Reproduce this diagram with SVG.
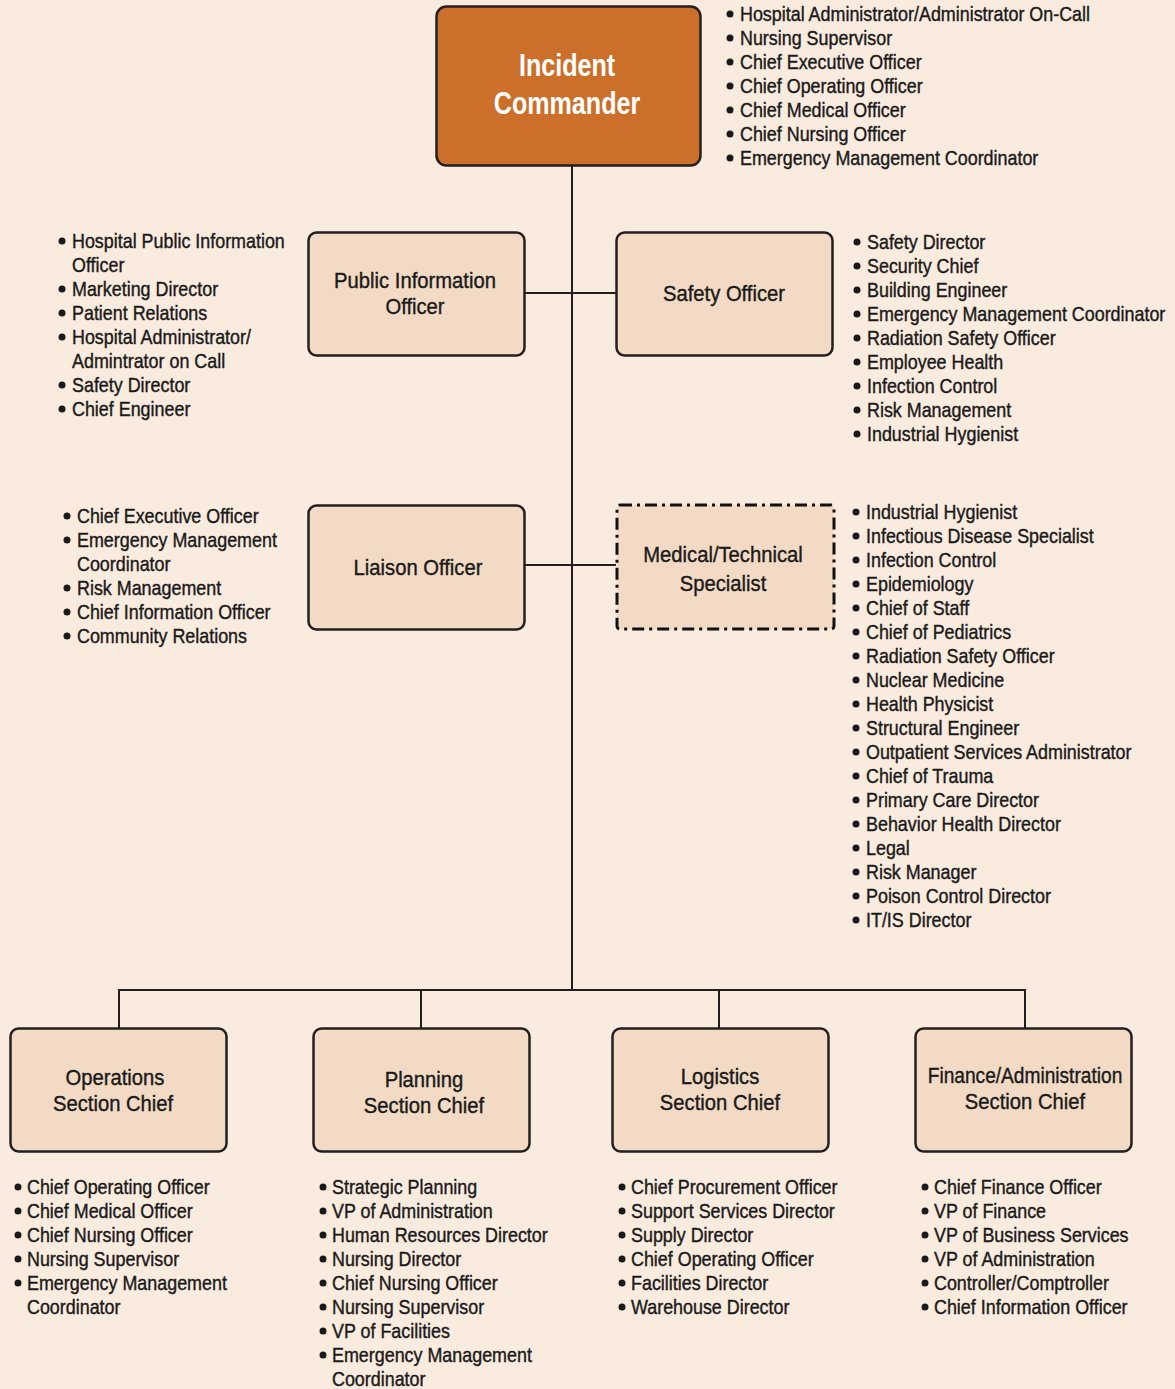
<svg xmlns="http://www.w3.org/2000/svg" width="1175" height="1389" viewBox="0 0 1175 1389">
  <style>
    .bg { fill: #FAEBDF; }
    .box { fill: #F3DAC4; stroke: #231F20; stroke-width: 2.5; }
    .cmd { fill: #CC6F2A; stroke: #231F20; stroke-width: 2.5; }
    .dash { fill: #F3DAC4; stroke: #111; stroke-width: 3; stroke-dasharray: 12 5 3 5; }
    .wire { fill: none; stroke: #231F20; stroke-width: 2; }
    text { font-family: "Liberation Sans", Arial, sans-serif; fill: #1A1A1A; stroke: #1A1A1A; stroke-width: 0.4; }
    .lbl { font-size: 22px; text-anchor: middle; }
    .title { font-size: 31px; font-weight: bold; fill: #FFFFFF; stroke: none; text-anchor: middle; }
    .li { font-size: 20px; }
    .dot { fill: #1A1A1A; }
  </style>
  <defs>
    <circle id="b" r="3.5" class="dot"/>
  </defs>
  <rect class="bg" x="0" y="0" width="1175" height="1389"/>

  <!-- reporting lines -->
  <g id="connectors">
    <path class="wire" d="M572 166 V990"/>
    <path class="wire" d="M524 293 H616"/>
    <path class="wire" d="M524 565 H616"/>
    <path class="wire" d="M119 1028 V990 H1025 V1028"/>
    <path class="wire" d="M421 990 V1028"/>
    <path class="wire" d="M719 990 V1028"/>
  </g>

  <!-- Incident Commander -->
  <g id="incident-commander">
    <rect class="cmd" x="436.5" y="6.5" width="264" height="159" rx="10"/>
    <g transform="translate(567 0) scale(0.81 1)">
      <text class="title" x="0" y="76">Incident</text>
      <text class="title" x="0" y="114">Commander</text>
    </g>
    <use href="#b" x="730" y="14"/><use href="#b" x="730" y="38"/><use href="#b" x="730" y="62"/>
    <use href="#b" x="730" y="86"/><use href="#b" x="730" y="110"/><use href="#b" x="730" y="134"/>
    <use href="#b" x="730" y="158"/>
    <g class="li" transform="translate(740 0) scale(0.895 1)">
      <text x="0" y="21">Hospital Administrator/Administrator On-Call</text>
      <text x="0" y="45">Nursing Supervisor</text>
      <text x="0" y="69">Chief Executive Officer</text>
      <text x="0" y="93">Chief Operating Officer</text>
      <text x="0" y="117">Chief Medical Officer</text>
      <text x="0" y="141">Chief Nursing Officer</text>
      <text x="0" y="165">Emergency Management Coordinator</text>
    </g>
  </g>

  <!-- Public Information Officer -->
  <g id="public-information-officer">
    <rect class="box" x="308.5" y="232.5" width="216" height="123" rx="8"/>
    <g transform="translate(415 0) scale(0.92 1)">
      <text class="lbl" x="0" y="288">Public Information</text>
      <text class="lbl" x="0" y="314">Officer</text>
    </g>
    <use href="#b" x="62" y="241"/><use href="#b" x="62" y="289"/><use href="#b" x="62" y="313"/>
    <use href="#b" x="62" y="337"/><use href="#b" x="62" y="385"/><use href="#b" x="62" y="409"/>
    <g class="li" transform="translate(72 0) scale(0.895 1)">
      <text x="0" y="248">Hospital Public Information</text>
      <text x="0" y="272">Officer</text>
      <text x="0" y="296">Marketing Director</text>
      <text x="0" y="320">Patient Relations</text>
      <text x="0" y="344">Hospital Administrator/</text>
      <text x="0" y="368">Admintrator on Call</text>
      <text x="0" y="392">Safety Director</text>
      <text x="0" y="416">Chief Engineer</text>
    </g>
  </g>

  <!-- Safety Officer -->
  <g id="safety-officer">
    <rect class="box" x="616.5" y="232.5" width="216" height="123" rx="8"/>
    <g transform="translate(724 0) scale(0.92 1)">
      <text class="lbl" x="0" y="301">Safety Officer</text>
    </g>
    <use href="#b" x="857" y="242"/><use href="#b" x="857" y="266"/><use href="#b" x="857" y="290"/>
    <use href="#b" x="857" y="314"/><use href="#b" x="857" y="338"/><use href="#b" x="857" y="362"/>
    <use href="#b" x="857" y="386"/><use href="#b" x="857" y="410"/><use href="#b" x="857" y="434"/>
    <g class="li" transform="translate(867 0) scale(0.895 1)">
      <text x="0" y="249">Safety Director</text>
      <text x="0" y="273">Security Chief</text>
      <text x="0" y="297">Building Engineer</text>
      <text x="0" y="321">Emergency Management Coordinator</text>
      <text x="0" y="345">Radiation Safety Officer</text>
      <text x="0" y="369">Employee Health</text>
      <text x="0" y="393">Infection Control</text>
      <text x="0" y="417">Risk Management</text>
      <text x="0" y="441">Industrial Hygienist</text>
    </g>
  </g>

  <!-- Liaison Officer -->
  <g id="liaison-officer">
    <rect class="box" x="308.5" y="505.5" width="216" height="124" rx="8"/>
    <g transform="translate(418 0) scale(0.92 1)">
      <text class="lbl" x="0" y="575">Liaison Officer</text>
    </g>
    <use href="#b" x="67" y="516"/><use href="#b" x="67" y="540"/><use href="#b" x="67" y="588"/>
    <use href="#b" x="67" y="612"/><use href="#b" x="67" y="636"/>
    <g class="li" transform="translate(77 0) scale(0.895 1)">
      <text x="0" y="523">Chief Executive Officer</text>
      <text x="0" y="547">Emergency Management</text>
      <text x="0" y="571">Coordinator</text>
      <text x="0" y="595">Risk Management</text>
      <text x="0" y="619">Chief Information Officer</text>
      <text x="0" y="643">Community Relations</text>
    </g>
  </g>

  <!-- Medical/Technical Specialist -->
  <g id="medical-technical-specialist">
    <rect class="dash" x="617" y="505" width="217" height="124" rx="3"/>
    <g transform="translate(723 0) scale(0.92 1)">
      <text class="lbl" x="0" y="562">Medical/Technical</text>
      <text class="lbl" x="0" y="591">Specialist</text>
    </g>
    <use href="#b" x="856" y="512"/><use href="#b" x="856" y="536"/><use href="#b" x="856" y="560"/>
    <use href="#b" x="856" y="584"/><use href="#b" x="856" y="608"/><use href="#b" x="856" y="632"/>
    <use href="#b" x="856" y="656"/><use href="#b" x="856" y="680"/><use href="#b" x="856" y="704"/>
    <use href="#b" x="856" y="728"/><use href="#b" x="856" y="752"/><use href="#b" x="856" y="776"/>
    <use href="#b" x="856" y="800"/><use href="#b" x="856" y="824"/><use href="#b" x="856" y="848"/>
    <use href="#b" x="856" y="872"/><use href="#b" x="856" y="896"/><use href="#b" x="856" y="920"/>
    <g class="li" transform="translate(866 0) scale(0.895 1)">
      <text x="0" y="519">Industrial Hygienist</text>
      <text x="0" y="543">Infectious Disease Specialist</text>
      <text x="0" y="567">Infection Control</text>
      <text x="0" y="591">Epidemiology</text>
      <text x="0" y="615">Chief of Staff</text>
      <text x="0" y="639">Chief of Pediatrics</text>
      <text x="0" y="663">Radiation Safety Officer</text>
      <text x="0" y="687">Nuclear Medicine</text>
      <text x="0" y="711">Health Physicist</text>
      <text x="0" y="735">Structural Engineer</text>
      <text x="0" y="759">Outpatient Services Administrator</text>
      <text x="0" y="783">Chief of Trauma</text>
      <text x="0" y="807">Primary Care Director</text>
      <text x="0" y="831">Behavior Health Director</text>
      <text x="0" y="855">Legal</text>
      <text x="0" y="879">Risk Manager</text>
      <text x="0" y="903">Poison Control Director</text>
      <text x="0" y="927">IT/IS Director</text>
    </g>
  </g>

  <!-- Operations Section Chief -->
  <g id="operations-section-chief">
    <rect class="box" x="10.5" y="1028.5" width="216" height="123" rx="8"/>
    <g transform="translate(114 0) scale(0.92 1)">
      <text class="lbl" x="1" y="1085">Operations</text>
      <text class="lbl" x="-1" y="1111">Section Chief</text>
    </g>
    <use href="#b" x="18" y="1187"/><use href="#b" x="18" y="1211"/><use href="#b" x="18" y="1235"/>
    <use href="#b" x="18" y="1259"/><use href="#b" x="18" y="1283"/>
    <g class="li" transform="translate(27 0) scale(0.895 1)">
      <text x="0" y="1194">Chief Operating Officer</text>
      <text x="0" y="1218">Chief Medical Officer</text>
      <text x="0" y="1242">Chief Nursing Officer</text>
      <text x="0" y="1266">Nursing Supervisor</text>
      <text x="0" y="1290">Emergency Management</text>
      <text x="0" y="1314">Coordinator</text>
    </g>
  </g>

  <!-- Planning Section Chief -->
  <g id="planning-section-chief">
    <rect class="box" x="313.5" y="1028.5" width="216" height="123" rx="8"/>
    <g transform="translate(424 0) scale(0.92 1)">
      <text class="lbl" x="0" y="1087">Planning</text>
      <text class="lbl" x="0" y="1113">Section Chief</text>
    </g>
    <use href="#b" x="323" y="1187"/><use href="#b" x="323" y="1211"/><use href="#b" x="323" y="1235"/>
    <use href="#b" x="323" y="1259"/><use href="#b" x="323" y="1283"/><use href="#b" x="323" y="1307"/>
    <use href="#b" x="323" y="1331"/><use href="#b" x="323" y="1355"/>
    <g class="li" transform="translate(332 0) scale(0.895 1)">
      <text x="0" y="1194">Strategic Planning</text>
      <text x="0" y="1218">VP of Administration</text>
      <text x="0" y="1242">Human Resources Director</text>
      <text x="0" y="1266">Nursing Director</text>
      <text x="0" y="1290">Chief Nursing Officer</text>
      <text x="0" y="1314">Nursing Supervisor</text>
      <text x="0" y="1338">VP of Facilities</text>
      <text x="0" y="1362">Emergency Management</text>
      <text x="0" y="1386">Coordinator</text>
    </g>
  </g>

  <!-- Logistics Section Chief -->
  <g id="logistics-section-chief">
    <rect class="box" x="612.5" y="1028.5" width="216" height="123" rx="8"/>
    <g transform="translate(720 0) scale(0.92 1)">
      <text class="lbl" x="0" y="1084">Logistics</text>
      <text class="lbl" x="0" y="1110">Section Chief</text>
    </g>
    <use href="#b" x="622" y="1187"/><use href="#b" x="622" y="1211"/><use href="#b" x="622" y="1235"/>
    <use href="#b" x="622" y="1259"/><use href="#b" x="622" y="1283"/><use href="#b" x="622" y="1307"/>
    <g class="li" transform="translate(631 0) scale(0.895 1)">
      <text x="0" y="1194">Chief Procurement Officer</text>
      <text x="0" y="1218">Support Services Director</text>
      <text x="0" y="1242">Supply Director</text>
      <text x="0" y="1266">Chief Operating Officer</text>
      <text x="0" y="1290">Facilities Director</text>
      <text x="0" y="1314">Warehouse Director</text>
    </g>
  </g>

  <!-- Finance/Administration Section Chief -->
  <g id="finance-administration-section-chief">
    <rect class="box" x="915.5" y="1028.5" width="216" height="123" rx="8"/>
    <g transform="translate(1025 0) scale(0.87 1)">
      <text class="lbl" x="0" y="1083">Finance/Administration</text>
    </g>
    <g transform="translate(1025 0) scale(0.92 1)">
      <text class="lbl" x="0" y="1109">Section Chief</text>
    </g>
    <use href="#b" x="925" y="1187"/><use href="#b" x="925" y="1211"/><use href="#b" x="925" y="1235"/>
    <use href="#b" x="925" y="1259"/><use href="#b" x="925" y="1283"/><use href="#b" x="925" y="1307"/>
    <g class="li" transform="translate(934 0) scale(0.895 1)">
      <text x="0" y="1194">Chief Finance Officer</text>
      <text x="0" y="1218">VP of Finance</text>
      <text x="0" y="1242">VP of Business Services</text>
      <text x="0" y="1266">VP of Administration</text>
      <text x="0" y="1290">Controller/Comptroller</text>
      <text x="0" y="1314">Chief Information Officer</text>
    </g>
  </g>
</svg>
